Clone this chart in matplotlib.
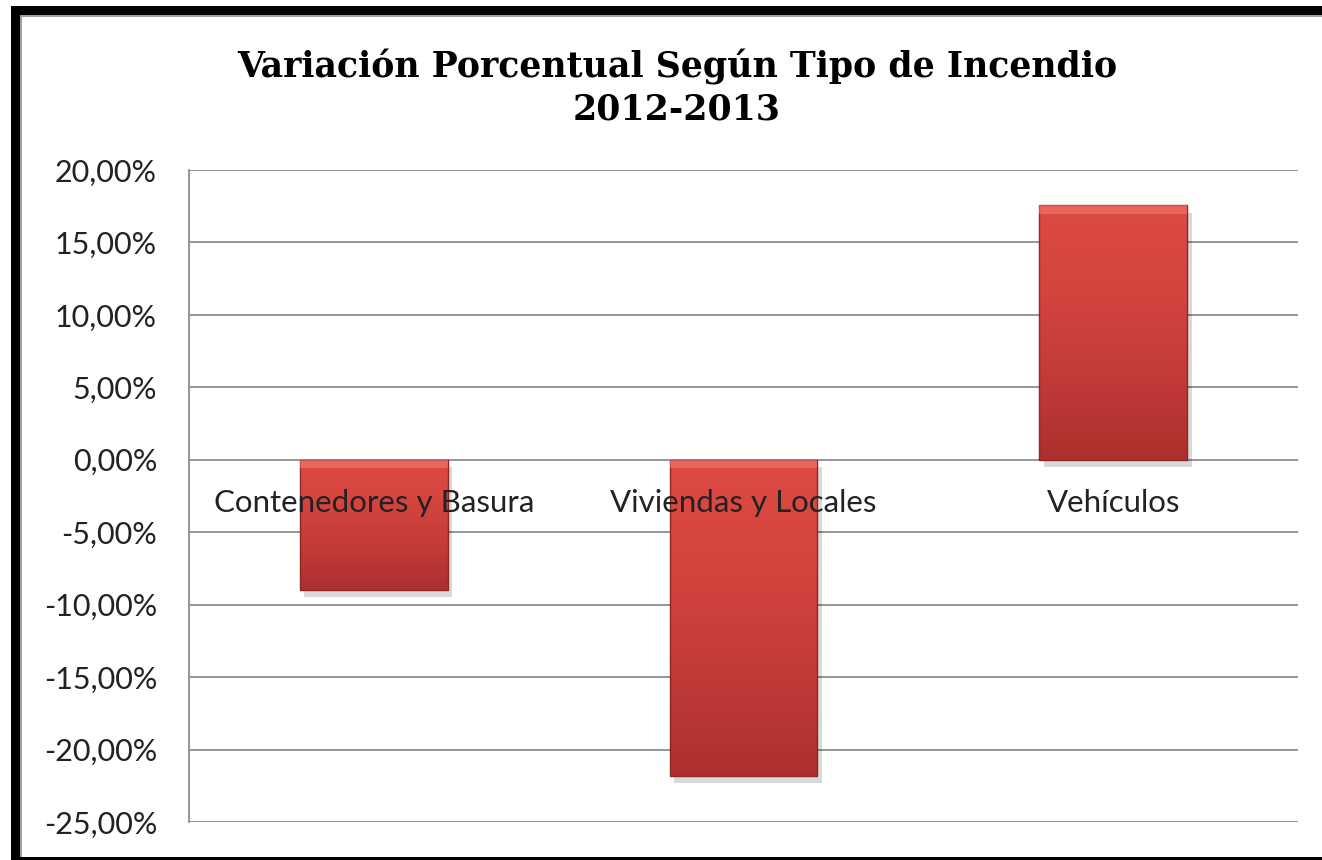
import numpy as np
import matplotlib
matplotlib.use("Agg")
import matplotlib.pyplot as plt
from matplotlib.patches import Rectangle
from matplotlib.ticker import FuncFormatter

# datos
categorias = ["Contenedores y Basura", "Viviendas y Locales", "Vehículos"]
variacion = [-9.0, -21.8, 17.55]  # en %
titulo = "Variación Porcentual Según Tipo de Incendio\n2012-2013"

W, H = 1322, 860
fig = plt.figure(figsize=(W / 100, H / 100), dpi=100)
fig.patch.set_facecolor("white")

# marco negro como en la imagen
def px_rect(x0, y0, x1, y1, color, z=10):
    fig.add_artist(Rectangle((x0 / W, 1 - y1 / H), (x1 - x0) / W, (y1 - y0) / H,
                             transform=fig.transFigure, color=color, lw=0, zorder=z))

px_rect(11, 6, W, 15, "black")
px_rect(11, 6, 20, H, "black")
px_rect(11, 857, W, H, "black")
px_rect(20, 15, 22, 857, "#a0a0a0")
px_rect(20, 15, W, 17, "#a0a0a0")

ax = fig.add_axes([189 / W, 1 - 822 / H, (1298 - 189) / W, (822 - 170) / H])
x = np.arange(len(categorias))
barras = ax.bar(x, variacion, width=0.4, color="none", zorder=3)

ax.set_xlim(-0.5, len(categorias) - 0.5)
ax.set_ylim(-25, 20)
ax.set_yticks(np.arange(-25, 21, 5))
ax.yaxis.set_major_formatter(FuncFormatter(lambda v, p: f"{v:.2f}%".replace(".", ",")))
ax.tick_params(axis="y", length=0, pad=23, labelsize=22, labelcolor="#222222")
for lab in ax.get_yticklabels():
    lab.set_fontfamily("Lato")
ax.set_xticks([])
ax.grid(axis="y", color="#8c8c8c", lw=1.3, zorder=0)
for s in ["top", "right", "bottom"]:
    ax.spines[s].set_visible(False)
ax.spines["left"].set_color("#8c8c8c")
ax.spines["left"].set_linewidth(1.3)

# degradado rojo con sombra
grad = np.linspace(0, 1, 256).reshape(-1, 1)
cmap = matplotlib.colors.LinearSegmentedColormap.from_list(
    "rojo", ["#de4a44", "#d5443f", "#c33b37", "#ab302d"])
for b in barras:
    x0, y0 = b.get_x(), b.get_y()
    w, h = b.get_width(), b.get_height()
    lo, hi = min(y0, y0 + h), max(y0, y0 + h)
    ax.add_patch(Rectangle((x0 + 0.012, lo - 0.5), w, hi - lo, color="black",
                           alpha=0.15, lw=0, zorder=2))
    im = ax.imshow(grad, extent=[x0, x0 + w, lo, hi], origin="upper",
                   cmap=cmap, aspect="auto", zorder=3)
    r = Rectangle((x0, lo), w, hi - lo, fill=False, ec="#8e2622", lw=1.0, zorder=4)
    ax.add_patch(r)
    im.set_clip_path(r)
    ax.add_patch(Rectangle((x0, hi - 0.6), w, 0.6, color="#f07a72", alpha=0.6,
                           lw=0, zorder=4))

for xi, nombre in zip(x, categorias):
    ax.text(xi, -3.0, nombre, ha="center", va="center", fontsize=22.5,
            family="Lato", color="#222222", zorder=5)

fig.text(0.512, 0.898, titulo, ha="center", va="center", fontsize=25,
         fontweight="bold", family="DejaVu Serif", linespacing=1.25)

fig.savefig("out.png", dpi=100)
